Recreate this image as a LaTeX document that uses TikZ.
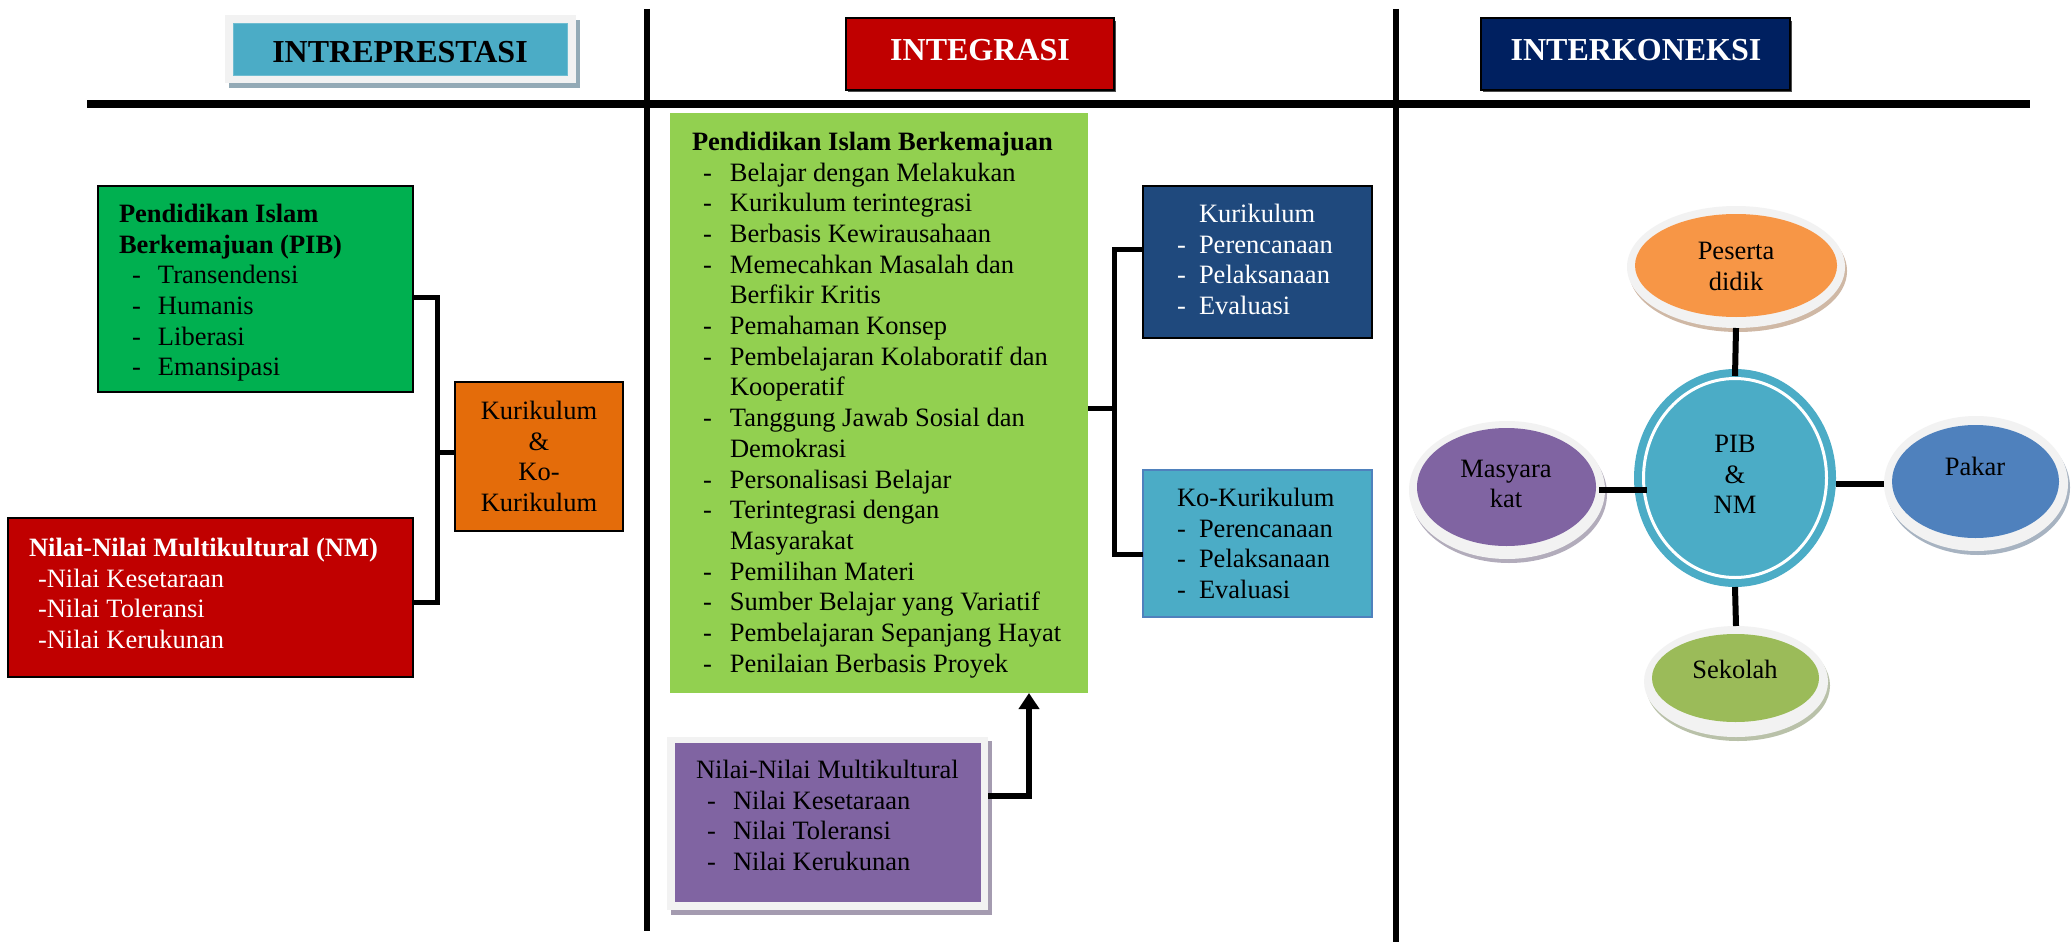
\documentclass[tikz,border=0pt]{standalone}
\usepackage{fontspec}
\setmainfont{Liberation Serif}
\usetikzlibrary{shapes.geometric,arrows.meta,calc}

\definecolor{tealhdr}{HTML}{4BACC6}
\definecolor{framegray}{HTML}{F2F2F2}
\definecolor{shadowgray}{HTML}{93AAB6}
\definecolor{redbox}{HTML}{C00000}
\definecolor{navybox}{HTML}{002060}
\definecolor{pibgreen}{HTML}{00B050}
\definecolor{orangebox}{HTML}{E46C0A}
\definecolor{limegreen}{HTML}{92D050}
\definecolor{kurblue}{HTML}{1F497D}
\definecolor{kokurborder}{HTML}{4F81BD}
\definecolor{purplebox}{HTML}{8064A2}
\definecolor{purpshadow}{HTML}{A49BB0}
\definecolor{ellorange}{HTML}{F79646}
\definecolor{ellblue}{HTML}{4F81BD}
\definecolor{ellgreen}{HTML}{9BBB59}

\newcommand\dashitem[3]{\hspace*{#1}\makebox[#2][l]{-}#3}

\begin{document}
\begin{tikzpicture}[x=1pt,y=-1pt,
  rect/.style={rectangle,inner sep=0pt,outer sep=0pt,anchor=north west},
  boxed/.style={rect,draw=black,line width=1.4pt},
  body/.style={font=\fontsize{26.5}{30.7}\selectfont,inner sep=0pt,outer sep=0pt,align=left,anchor=north west},
  ctext/.style={font=\fontsize{26.5}{30.7}\selectfont,inner sep=0pt,outer sep=0pt,align=center},
  hdr/.style={font=\bfseries\fontsize{32}{38}\selectfont,inner sep=0pt,anchor=base},
  rule/.style={line width=#1,black},
  conn/.style={line width=5pt,black},
  arr/.style={line width=6pt,black,-{Triangle[length=16pt,width=20pt]}},
  oval/.style={ellipse,inner sep=0pt,outer sep=0pt},
]
\useasboundingbox[fill=white] (0,0) rectangle (2071,942);

% ---------- column rules ----------
\draw[rule=8pt] (87,104) -- (2030,104);
\draw[rule=6pt] (647,9) -- (647,931);
\draw[rule=6pt] (1396,9) -- (1396,942);

% ---------- column headings ----------
\fill[shadowgray] (229,20) rectangle (580,88);
\node[rect,fill=framegray,minimum width=351pt,minimum height=68pt] (hdrA) at (225,15) {};
\node[rect,fill=tealhdr,draw=tealhdr!80!white,line width=0.8pt,minimum width=334pt,minimum height=52pt] (hdrAin) at (233,23) {};
\node[hdr] (hdrAtxt) at (400,63) {INTREPRESTASI};

\fill[black!70] (848,21) rectangle (1116,92);
\node[boxed,fill=redbox,minimum width=268pt,minimum height=72pt] (hdrB) at (846,18) {};
\node[hdr,text=white] (hdrBtxt) at (980,60) {INTEGRASI};

\fill[black!70] (1483,21) rectangle (1792,92);
\node[boxed,fill=navybox,minimum width=309pt,minimum height=72pt] (hdrC) at (1481,18) {};
\node[hdr,text=white] (hdrCtxt) at (1636,60) {INTERKONEKSI};

% ---------- left column ----------
\node[boxed,fill=pibgreen,minimum width=315pt,minimum height=206pt] (pibL) at (98,186) {};
\node[body] (pibLtxt) at (119,204) {{\bfseries Pendidikan Islam}\\
  {\bfseries Berkemajuan (PIB)}\\
  \dashitem{13pt}{26pt}{Transendensi}\\
  \dashitem{13pt}{26pt}{Humanis}\\
  \dashitem{13pt}{26pt}{Liberasi}\\
  \dashitem{13pt}{26pt}{Emansipasi}};

\node[boxed,fill=orangebox,minimum width=168pt,minimum height=149pt] (kk) at (455,382) {};
\node[ctext,anchor=north] (kktxt) at (539,401) {Kurikulum\\ \&\\ Ko-\\ Kurikulum};

\node[boxed,fill=redbox,minimum width=405pt,minimum height=159pt] (nmL) at (8,518) {};
\node[body,text=white] (nmLtxt) at (29,538) {{\bfseries Nilai-Nilai Multikultural (NM)}\\
  \hspace*{9pt}-Nilai Kesetaraan\\
  \hspace*{9pt}-Nilai Toleransi\\
  \hspace*{9pt}-Nilai Kerukunan};

\coordinate (joinL) at (437,452);
\draw[conn] ([yshift=-8pt]pibL.east) -| (joinL) |- ([yshift=-4.5pt]nmL.east);
\draw[conn] (joinL) -- (joinL -| kk.west);

% ---------- middle column ----------
\node[rect,fill=limegreen,minimum width=418pt,minimum height=580pt] (pibM) at (670,113) {};
\node[body] (pibMtxt) at (692,132) {{\bfseries Pendidikan Islam Berkemajuan}\\
  \dashitem{11pt}{27pt}{Belajar dengan Melakukan}\\
  \dashitem{11pt}{27pt}{Kurikulum terintegrasi}\\
  \dashitem{11pt}{27pt}{Berbasis Kewirausahaan}\\
  \dashitem{11pt}{27pt}{Memecahkan Masalah dan}\\
  \hspace*{38pt}Berfikir Kritis\\
  \dashitem{11pt}{27pt}{Pemahaman Konsep}\\
  \dashitem{11pt}{27pt}{Pembelajaran Kolaboratif dan}\\
  \hspace*{38pt}Kooperatif\\
  \dashitem{11pt}{27pt}{Tanggung Jawab Sosial dan}\\
  \hspace*{38pt}Demokrasi\\
  \dashitem{11pt}{27pt}{Personalisasi Belajar}\\
  \dashitem{11pt}{27pt}{Terintegrasi dengan}\\
  \hspace*{38pt}Masyarakat\\
  \dashitem{11pt}{27pt}{Pemilihan Materi}\\
  \dashitem{11pt}{27pt}{Sumber Belajar yang Variatif}\\
  \dashitem{11pt}{27pt}{Pembelajaran Sepanjang Hayat}\\
  \dashitem{11pt}{27pt}{Penilaian Berbasis Proyek}};

\node[boxed,fill=kurblue,minimum width=229pt,minimum height=152pt] (kur) at (1143,186) {};
\node[body,text=white] (kurtxt) at (1177,204) {\hspace*{22pt}Kurikulum\\
  \dashitem{0pt}{22pt}{Perencanaan}\\
  \dashitem{0pt}{22pt}{Pelaksanaan}\\
  \dashitem{0pt}{22pt}{Evaluasi}};

\node[rect,fill=tealhdr,draw=kokurborder,line width=1.4pt,minimum width=229pt,minimum height=147pt] (kokur) at (1143,470) {};
\node[body] (kokurtxt) at (1177,488) {Ko-Kurikulum\\
  \dashitem{0pt}{22pt}{Perencanaan}\\
  \dashitem{0pt}{22pt}{Pelaksanaan}\\
  \dashitem{0pt}{22pt}{Evaluasi}};

\coordinate (joinM) at (1114,408);
\draw[conn] ([yshift=13pt]kur.west) -| (joinM) |- ([yshift=-10.5pt]kokur.west);
\draw[conn] (joinM -| pibM.east) -- (joinM);

\fill[purpshadow] (671,741) rectangle (992,915);
\node[rect,fill=framegray,minimum width=321pt,minimum height=173pt] (nmM) at (667,737) {};
\node[rect,fill=purplebox,minimum width=306pt,minimum height=159pt] (nmMin) at (675,743) {};
\node[body] (nmMtxt) at (696,760) {Nilai-Nilai Multikultural\\
  \dashitem{11pt}{26pt}{Nilai Kesetaraan}\\
  \dashitem{11pt}{26pt}{Nilai Toleransi}\\
  \dashitem{11pt}{26pt}{Nilai Kerukunan}};

\draw[arr] ([yshift=28pt]nmM.east) -| ([xshift=150pt]pibM.south);

% ---------- right column ----------
% satellite ovals: shadow, light rim, coloured face
\fill[ellorange!40!gray!60] (1738,271) ellipse [x radius=109, y radius=61];
\node[oval,fill=framegray,minimum width=218pt,minimum height=122pt] (peserta) at (1736,267) {};
\node[oval,fill=ellorange,minimum width=202pt,minimum height=103pt] (pesertaIn) at (1736,265.5) {};
\node[ctext] (pesertaTxt) at (1736,266.5) {Peserta\\ didik};

\fill[ellblue!40!gray!60] (1978,487.5) ellipse [x radius=92, y radius=67.5];
\node[oval,fill=framegray,minimum width=184pt,minimum height=135pt] (pakar) at (1976,483.5) {};
\node[oval,fill=ellblue,minimum width=167pt,minimum height=113pt] (pakarIn) at (1975.5,481.5) {};
\node[ctext] (pakarTxt) at (1975,466) {Pakar};

\fill[purplebox!40!gray!60] (1509,494) ellipse [x radius=98, y radius=69];
\node[oval,fill=framegray,minimum width=196pt,minimum height=138pt] (masy) at (1507,490) {};
\node[oval,fill=purplebox,minimum width=179pt,minimum height=118pt] (masyIn) at (1506.5,487) {};
\node[ctext] (masyTxt) at (1506,484) {Masyara\\ kat};

\fill[ellgreen!40!gray!60] (1738,685.5) ellipse [x radius=92, y radius=55.5];
\node[oval,fill=framegray,minimum width=184pt,minimum height=111pt] (sekolah) at (1736,681.5) {};
\node[oval,fill=ellgreen,minimum width=167pt,minimum height=88pt] (sekolahIn) at (1735.5,678) {};
\node[ctext] (sekolahTxt) at (1735,669) {Sekolah};

% central oval
\node[oval,fill=tealhdr,minimum width=202pt,minimum height=218pt] (core) at (1735,478) {};
\draw[white,line width=3pt] (core.center) ellipse [x radius=91.5, y radius=99.5];
\node[ctext] (coreTxt) at (1735,474.5) {PIB\\ \&\\ NM};

% spokes
\draw[line width=6pt] (peserta.south) -- ([yshift=-7pt]core.north);
\draw[line width=6pt] (core.south) -- (sekolah.north);
\draw[line width=6pt] (pakar.west) -- (pakar.west -| core.east);
\draw[line width=6pt] ([xshift=-6pt]masy.east) -- ([xshift=13pt]masy.east -| core.west);
\end{tikzpicture}
\end{document}
